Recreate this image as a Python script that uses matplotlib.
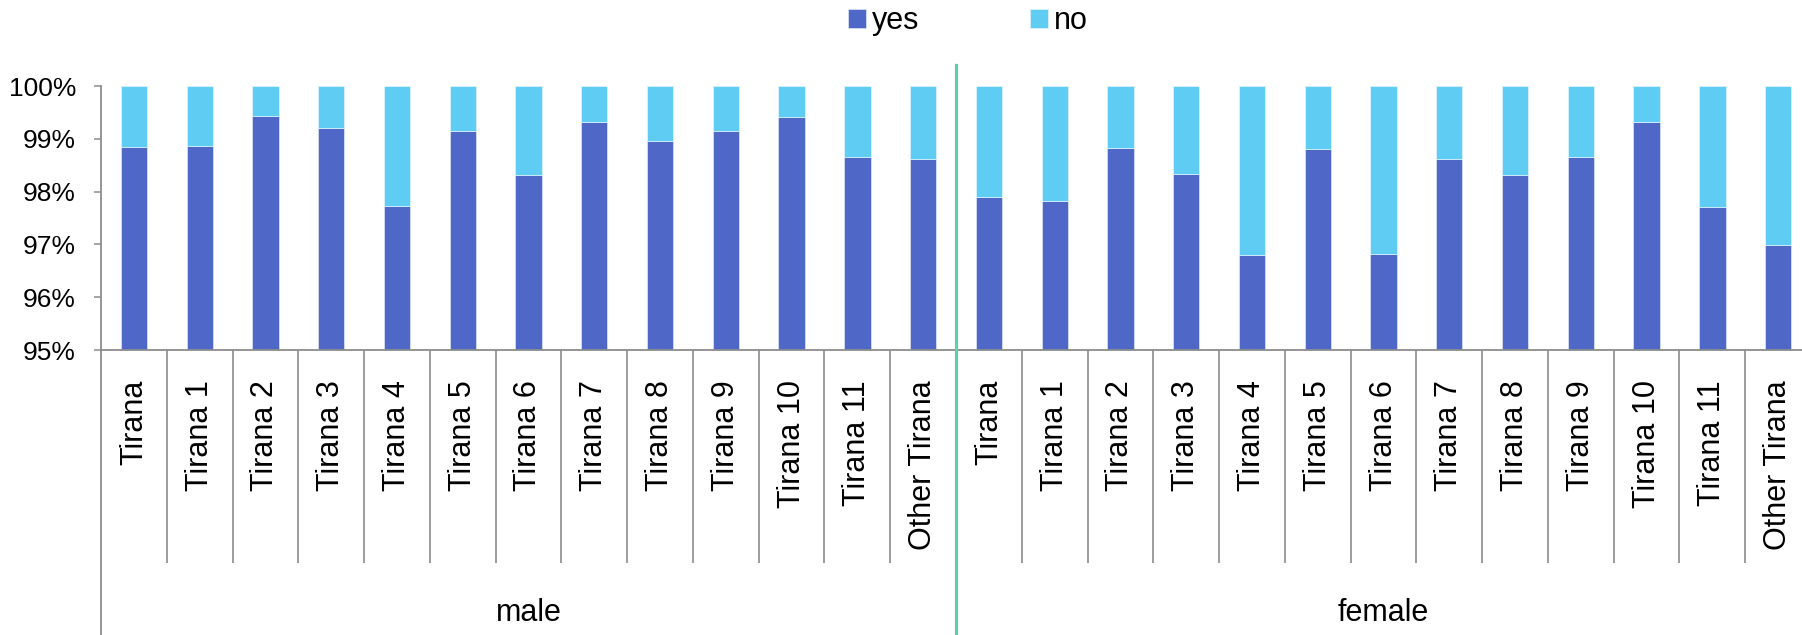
import matplotlib
matplotlib.use("Agg")
import matplotlib.pyplot as plt
from matplotlib.ticker import FuncFormatter
import numpy as np

plt.rcParams['font.family'] = ['Liberation Sans', 'DejaVu Sans']

districts = ["Tirana", "Tirana 1", "Tirana 2", "Tirana 3", "Tirana 4", "Tirana 5",
             "Tirana 6", "Tirana 7", "Tirana 8", "Tirana 9", "Tirana 10", "Tirana 11",
             "Other Tirana"]
groups = ["male", "female"]

yes_male = [98.84, 98.86, 99.43, 99.21, 97.72, 99.15, 98.32, 99.31, 98.95, 99.14,
            99.41, 98.65, 98.62]
yes_female = [97.90, 97.83, 98.83, 98.34, 96.79, 98.80, 96.81, 98.61, 98.32, 98.65,
              99.31, 97.70, 96.98]

yes_vals = np.array(yes_male + yes_female)
no_vals = 100.0 - yes_vals
labels = districts + districts
n = len(labels)
x = np.arange(n)

YES_C = '#4F68C8'
NO_C = '#5ECCF3'
GRID_C = '#8C8C8C'

W, H, DPI = 1802, 635, 100
fig = plt.figure(figsize=(W / DPI, H / DPI), dpi=DPI)
left_px, right_px, top_px, bot_px = 101, 1811, 86, 350
ax = fig.add_axes([left_px / W, 1 - bot_px / H, (right_px - left_px) / W, (bot_px - top_px) / H])

b1 = ax.bar(x, yes_vals, width=0.4, color=YES_C, edgecolor='#dfe6f7', linewidth=0.5, label='yes')
b2 = ax.bar(x, no_vals, bottom=yes_vals, width=0.4, color=NO_C, edgecolor='#e3f6fd',
            linewidth=0.5, label='no')

ax.set_xlim(-0.5, n - 0.5)
ax.set_ylim(95, 100)
ax.set_yticks([95, 96, 97, 98, 99, 100])
ax.yaxis.set_major_formatter(FuncFormatter(lambda v, p: f"{v:.0f}%"))
ax.tick_params(axis='y', direction='out', length=5, width=1.1, color=GRID_C,
               labelsize=19, pad=13)

for s in ['top', 'right']:
    ax.spines[s].set_visible(False)
for s in ['left', 'bottom']:
    ax.spines[s].set_color(GRID_C)
    ax.spines[s].set_linewidth(1.3)

# category separators as minor ticks
ax.set_xticks([])
ax.set_xticks(np.arange(0.5, n - 0.5, 1.0), minor=True)
ax.tick_params(axis='x', which='minor', direction='out', length=213 * 72 / DPI,
               width=1.2, color=GRID_C)

axh = bot_px - top_px
xtr = ax.get_xaxis_transform()
# outer lines of group axis
ax.plot([-0.5, -0.5], [0, -(H - bot_px + 5) / axh], transform=xtr, color=GRID_C,
        lw=1.3, clip_on=False)
ax.plot([n / 2 - 0.5, n / 2 - 0.5], [1 + 21 / axh, -(H - bot_px + 5) / axh],
        transform=xtr, color='#5FCFA8', lw=2.3, clip_on=False, zorder=5)

for xi, lab in zip(x, labels):
    ax.text(xi, -30 / axh, lab, transform=xtr, rotation=90, ha='center', va='top',
            fontsize=22)

half = len(districts)
for gi, g in enumerate(groups):
    cx = gi * half + (half - 1) / 2
    ax.text(cx, -(621 - bot_px) / axh, g, transform=xtr, ha='center', va='baseline',
            fontsize=22)

fig.legend(handles=[b1, b2], labels=['yes', 'no'], loc='center',
           bbox_to_anchor=(968 / W, 1 - 21 / H), ncol=2, frameon=False, fontsize=22,
           handlelength=0.6, handleheight=0.6, handletextpad=0.2, columnspacing=3.6,
           borderpad=0)

fig.savefig('out.png', dpi=DPI)
